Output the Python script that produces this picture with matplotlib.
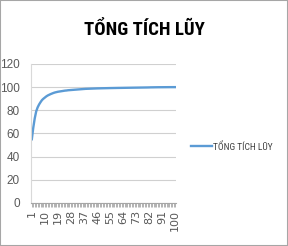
import matplotlib
matplotlib.use('Agg')
import matplotlib.pyplot as plt
from matplotlib.patches import Rectangle

# ── Data ──
days = list(range(1, 101))
cumulative = [
    55.0, 65.0, 73.0, 79.0, 82.5, 85.0, 87.0, 88.8, 90.0, 91.0,
    92.0, 92.8, 93.4, 94.0, 94.5, 95.0, 95.4, 95.7, 96.0, 96.2,
    96.4, 96.6, 96.8, 97.0, 97.1, 97.3, 97.4, 97.5, 97.6, 97.7,
    97.8, 97.9, 98.0, 98.1, 98.2, 98.3, 98.4, 98.5, 98.55, 98.6,
    98.65, 98.7, 98.75, 98.8, 98.85, 98.9, 98.93, 98.96, 99.0, 99.03,
    99.06, 99.09, 99.12, 99.15, 99.18, 99.2, 99.22, 99.25, 99.27, 99.3,
    99.32, 99.34, 99.36, 99.38, 99.4, 99.42, 99.44, 99.46, 99.48, 99.5,
    99.52, 99.54, 99.56, 99.58, 99.6, 99.62, 99.64, 99.66, 99.68, 99.7,
    99.72, 99.75, 99.8, 99.82, 99.84, 99.86, 99.88, 99.9, 99.91, 99.92,
    99.93, 99.94, 99.95, 99.96, 99.97, 99.98, 99.98, 99.99, 99.99, 100.0,
]
xtick_labels = [str(d) for d in range(1, 101, 9)]
yticks = [0, 20, 40, 60, 80, 100, 120]
series_name = "TỔNG TÍCH LŨY"

FONT = "Roboto Condensed"

fig = plt.figure(figsize=(2.88, 2.46), dpi=100)
fig.patches.append(Rectangle((0, 0), 1, 1, transform=fig.transFigure,
                             fill=False, edgecolor="#a6a6a6", linewidth=1.5))

ax = fig.add_axes([0.108, 0.175, 0.503, 0.565])
ax.plot(days, cumulative, color="#5b9bd5", linewidth=1.7, label=series_name)

ax.set_ylim(0, 120)
ax.set_yticks(yticks)
ax.set_xlim(0.5, 100.5)
ax.set_xticks(range(1, 101, 9))
ax.set_xticklabels(xtick_labels, rotation=90, fontsize=8, color="#595959")
ax.set_xticks(days, minor=True)
ax.tick_params(axis="x", which="both", length=3, color="#a6a6a6", width=0.6, pad=2)
ax.tick_params(axis="y", length=0, labelsize=8.5, labelcolor="#595959", pad=8)
for t in ax.get_yticklabels():
    t.set_family("Liberation Sans")
ax.grid(axis="y", color="#d0d0d0", linewidth=0.8)
ax.set_axisbelow(True)
for s in ["top", "right"]:
    ax.spines[s].set_visible(False)
ax.spines["left"].set_color("#d9d9d9")
ax.spines["bottom"].set_color("#a6a6a6")

fig.text(0.5, 0.878, series_name, ha="center", va="center", fontsize=13.5,
         fontweight="bold", family=FONT)

leg = ax.legend(loc="center left", bbox_to_anchor=(1.07, 0.405), frameon=False,
                handlelength=2.2, handletextpad=0.15, borderpad=0,
                prop={"family": FONT, "size": 6.8})
for t in leg.get_texts():
    t.set_color("#404040")

fig.savefig("out.png", dpi=100)
